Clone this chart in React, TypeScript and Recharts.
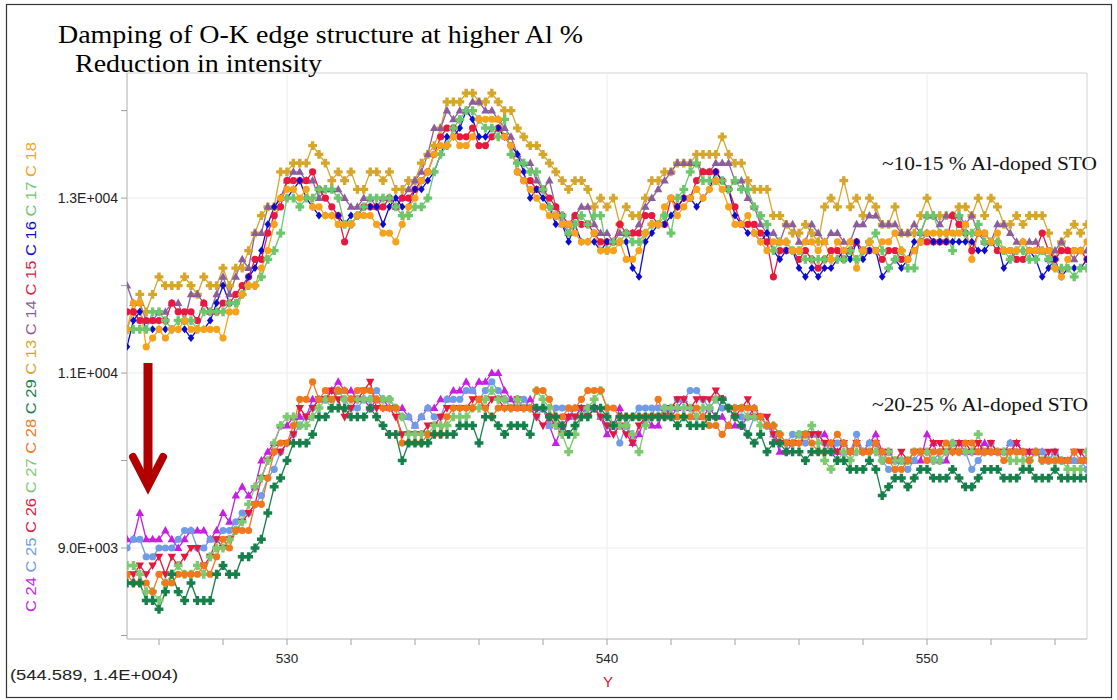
import React from 'react';
import { LineChart, Line, XAxis, YAxis, ReferenceLine, ReferenceArea } from 'recharts';

// energy loss (eV), one reading every 0.2 eV
const energies = [
  525, 525.2, 525.4, 525.6, 525.8, 526, 526.2, 526.4, 526.6, 526.8,
  527, 527.2, 527.4, 527.6, 527.8, 528, 528.2, 528.4, 528.6, 528.8,
  529, 529.2, 529.4, 529.6, 529.8, 530, 530.2, 530.4, 530.6, 530.8,
  531, 531.2, 531.4, 531.6, 531.8, 532, 532.2, 532.4, 532.6, 532.8,
  533, 533.2, 533.4, 533.6, 533.8, 534, 534.2, 534.4, 534.6, 534.8,
  535, 535.2, 535.4, 535.6, 535.8, 536, 536.2, 536.4, 536.6, 536.8,
  537, 537.2, 537.4, 537.6, 537.8, 538, 538.2, 538.4, 538.6, 538.8,
  539, 539.2, 539.4, 539.6, 539.8, 540, 540.2, 540.4, 540.6, 540.8,
  541, 541.2, 541.4, 541.6, 541.8, 542, 542.2, 542.4, 542.6, 542.8,
  543, 543.2, 543.4, 543.6, 543.8, 544, 544.2, 544.4, 544.6, 544.8,
  545, 545.2, 545.4, 545.6, 545.8, 546, 546.2, 546.4, 546.6, 546.8,
  547, 547.2, 547.4, 547.6, 547.8, 548, 548.2, 548.4, 548.6, 548.8,
  549, 549.2, 549.4, 549.6, 549.8, 550, 550.2, 550.4, 550.6, 550.8,
  551, 551.2, 551.4, 551.6, 551.8, 552, 552.2, 552.4, 552.6, 552.8,
  553, 553.2, 553.4, 553.6, 553.8, 554, 554.2, 554.4, 554.6, 554.8,
  555,
];

// ~10-15 % Al
const c13 = [
  11500, 11700, 11900, 11700, 11900, 12100, 12000, 12000, 12000, 12100,
  12000, 11900, 12100, 12000, 12000, 12200, 12000, 12200, 12200, 12400,
  12600, 12800, 12900, 12900, 13300, 13300, 13400, 13400, 13400, 13600,
  13500, 13400, 13200, 13300, 13200, 13300, 13100, 13100, 13300, 13300,
  13200, 13300, 13100, 13100, 13200, 13200, 13400, 13500, 13600, 13800,
  14100, 14100, 14100, 14200, 14200, 14100, 14100, 14200, 14100, 14000,
  14000, 13800, 13700, 13600, 13600, 13500, 13400, 13300, 13200, 13100,
  13200, 13200, 13100, 12900, 13000, 12900, 13000, 12700, 12900, 12800,
  12800, 13000, 13200, 13200, 13300, 13300, 13400, 13400, 13400, 13500,
  13500, 13500, 13500, 13700, 13500, 13400, 13400, 13200, 13100, 13100,
  13100, 12800, 12800, 12700, 12600, 12600, 12700, 12600, 12500, 12900,
  13000, 12900, 13200, 12900, 13000, 12800, 13000, 12900, 12700, 12700,
  12900, 12600, 12600, 12600, 12800, 13000, 12800, 12800, 12800, 12800,
  12900, 12900, 12800, 13000, 12800, 13000, 12900, 12700, 12700, 12800,
  12700, 12800, 12800, 12800, 12600, 12300, 12500, 12600, 12700, 12600,
  12700,
];
const c14 = [
  12000, 11800, 11800, 11600, 11600, 11700, 11700, 11800, 11800, 11600,
  11900, 11900, 11800, 11700, 11900, 12100, 11900, 12100, 12300, 12200,
  12600, 12600, 12900, 12900, 13000, 13200, 13300, 13300, 13200, 13200,
  13000, 13100, 13100, 13100, 13000, 12900, 12900, 13000, 13000, 12900,
  13000, 13000, 12900, 13000, 13100, 13200, 13300, 13500, 13800, 13800,
  14000, 13900, 14000, 14000, 14100, 14100, 14000, 14000, 13900, 13800,
  13700, 13500, 13400, 13400, 13200, 13100, 13200, 12900, 12700, 12600,
  12800, 12900, 12900, 12700, 12600, 12600, 12500, 12600, 12600, 12600,
  12700, 12900, 13000, 13100, 13200, 13300, 13400, 13400, 13400, 13400,
  13300, 13300, 13400, 13400, 13400, 13200, 13200, 13000, 12900, 12700,
  12600, 12600, 12500, 12700, 12700, 12500, 12500, 12700, 12600, 12500,
  12600, 12600, 12500, 12500, 12700, 12700, 12800, 12800, 12700, 12700,
  12700, 12600, 12600, 12700, 12600, 12800, 12800, 12700, 12800, 12800,
  12800, 12700, 12800, 12600, 12500, 12500, 12700, 12700, 12600, 12500,
  12500, 12500, 12500, 12400, 12300, 12400, 12500, 12400, 12300, 12400,
  12400,
];
const c15 = [
  11700, 11700, 11600, 11600, 11600, 11600, 11600, 11800, 11700, 11700,
  11700, 11600, 11800, 11700, 11700, 11800, 11800, 11900, 12000, 12100,
  12300, 12300, 12600, 12800, 12900, 13200, 13200, 13200, 13200, 13300,
  13100, 13000, 12900, 12800, 12500, 12700, 12800, 12900, 12900, 12900,
  12900, 13000, 12900, 13000, 13000, 13100, 13200, 13300, 13500, 13700,
  13800, 13800, 13700, 13700, 13800, 13600, 13600, 13700, 13800, 13700,
  13600, 13300, 13200, 13200, 13100, 13100, 13000, 12900, 12800, 12700,
  12800, 12700, 12700, 12600, 12500, 12500, 12500, 12700, 12600, 12600,
  12600, 12800, 12800, 12700, 12700, 13000, 12900, 13000, 13000, 13200,
  13300, 13300, 13300, 13200, 13100, 12900, 12700, 12700, 12700, 12600,
  12500, 12100, 12400, 12400, 12400, 12300, 12400, 12300, 12200, 12300,
  12400, 12400, 12300, 12400, 12500, 12400, 12400, 12400, 12300, 12400,
  12400, 12300, 12300, 12400, 12500, 12500, 12500, 12500, 12500, 12800,
  12700, 12600, 12400, 12600, 12600, 12500, 12400, 12400, 12400, 12300,
  12300, 12400, 12400, 12600, 12400, 12300, 12400, 12400, 12400, 12400,
  12300,
];
const c16 = [
  11300, 11600, 11700, 11500, 11500, 11500, 11500, 11500, 11500, 11500,
  11400, 11500, 11500, 11600, 11800, 12000, 11800, 11800, 11900, 12100,
  12200, 12400, 12700, 12900, 13000, 13000, 13100, 13200, 13000, 12900,
  12800, 12800, 12800, 12800, 12700, 12800, 12800, 12900, 12900, 12900,
  12700, 12900, 13000, 12900, 12900, 13100, 13100, 13200, 13300, 13500,
  13700, 13700, 13800, 14000, 13900, 13700, 13700, 13800, 13800, 13700,
  13600, 13500, 13300, 13000, 13100, 13000, 12900, 12700, 12700, 12500,
  12700, 12500, 12500, 12500, 12400, 12500, 12500, 12500, 12500, 12200,
  12100, 12500, 12600, 12700, 12700, 12800, 12900, 13000, 13000, 12900,
  13000, 13100, 13300, 13200, 13100, 12800, 12700, 12600, 12600, 12500,
  12600, 12400, 12300, 12400, 12400, 12200, 12100, 12200, 12100, 12200,
  12200, 12300, 12400, 12300, 12500, 12300, 12400, 12400, 12100, 12200,
  12300, 12200, 12300, 12500, 12500, 12600, 12500, 12500, 12500, 12500,
  12500, 12500, 12500, 12400, 12400, 12500, 12500, 12200, 12300, 12400,
  12400, 12400, 12300, 12100, 12200, 12300, 12100, 12200, 12200, 12200,
  12300,
];
const c17 = [
  11500, 11500, 11500, 11500, 11700, 11700, 11600, 11500, 11600, 11600,
  11600, 11500, 11700, 11700, 11700, 11700, 11800, 11800, 11900, 12000,
  12000, 12100, 12300, 12400, 12600, 13000, 13000, 12900, 13000, 13000,
  13100, 13100, 13100, 13000, 12700, 12700, 12800, 12900, 13000, 13000,
  13000, 13000, 12900, 12800, 12800, 12900, 12900, 13000, 13300, 13500,
  13600, 13800, 13900, 14000, 14000, 13900, 13800, 13800, 13700, 13900,
  13500, 13400, 13400, 13300, 13300, 13100, 12900, 12800, 12800, 12600,
  12700, 12800, 12700, 12800, 12800, 12400, 12500, 12500, 12600, 12500,
  12500, 12600, 12700, 12700, 12800, 12600, 13000, 13100, 13300, 13400,
  13200, 13200, 13200, 13200, 13100, 13200, 13100, 13100, 12900, 12800,
  12700, 12400, 12500, 12500, 12400, 12400, 12300, 12300, 12300, 12300,
  12300, 12300, 12300, 12400, 12300, 12400, 12500, 12600, 12400, 12200,
  12300, 12400, 12200, 12200, 12600, 12800, 12800, 12600, 12600, 12400,
  12800, 12600, 12600, 12700, 12500, 12500, 12500, 12400, 12300, 12400,
  12400, 12300, 12300, 12400, 12300, 12200, 12200, 12200, 12100, 12200,
  12200,
];
const c18 = [
  11500, 11800, 11800, 11300, 11400, 11500, 11400, 11500, 11500, 11600,
  11500, 11500, 11500, 11500, 11500, 11400, 11700, 11700, 11900, 12000,
  12000, 12200, 12400, 12700, 13000, 13100, 13100, 13000, 13100, 12900,
  12900, 12800, 12800, 12700, 12700, 12700, 12800, 12800, 12800, 12700,
  12600, 12600, 12500, 12700, 12900, 13000, 13200, 13300, 13500, 13600,
  13600, 13700, 13600, 13600, 13700, 13900, 13900, 13900, 13900, 13700,
  13600, 13300, 13200, 13100, 13000, 12900, 12800, 12800, 12700, 12700,
  12600, 12500, 12500, 12600, 12400, 12400, 12400, 12500, 12300, 12300,
  12400, 12600, 12700, 12700, 12900, 13000, 12800, 12900, 13000, 13100,
  13000, 13100, 13200, 13100, 12900, 12700, 12700, 12800, 12600, 12500,
  12400, 12500, 12500, 12500, 12400, 12400, 12500, 12500, 12400, 12500,
  12300, 12500, 12400, 12500, 12200, 12400, 12500, 12400, 12500, 12500,
  12600, 12400, 12300, 12400, 12500, 12600, 12600, 12600, 12600, 12600,
  12600, 12700, 12300, 12600, 12600, 12500, 12600, 12400, 12400, 12400,
  12500, 12400, 12400, 12400, 12400, 12200, 12100, 12300, 12400, 12400,
  12500,
];

// ~20-25 % Al
const c24 = [
  9100, 9100, 9400, 9100, 9100, 9100, 9200, 9100, 9000, 9100,
  9200, 9200, 9200, 9100, 9200, 9400, 9300, 9600, 9700, 9600,
  9700, 10000, 10100, 10200, 10400, 10400, 10500, 10500, 10500, 10700,
  10700, 10700, 10800, 10900, 10800, 10800, 10700, 10700, 10600, 10700,
  10700, 10600, 10600, 10600, 10500, 10400, 10500, 10600, 10600, 10700,
  10700, 10800, 10800, 10900, 10800, 10900, 10900, 11000, 11000, 10800,
  10700, 10600, 10600, 10700, 10600, 10600, 10400, 10200, 10400, 10500,
  10600, 10600, 10600, 10600, 10500, 10300, 10400, 10600, 10400, 10200,
  10300, 10500, 10400, 10400, 10600, 10500, 10600, 10700, 10600, 10500,
  10500, 10600, 10500, 10500, 10400, 10400, 10400, 10500, 10600, 10500,
  10400, 10300, 10100, 10100, 10200, 10300, 10300, 10300, 10300, 10300,
  10200, 10100, 10200, 10100, 10200, 10100, 10200, 10300, 10100, 10100,
  10000, 10000, 10000, 10000, 10000, 10300, 10200, 10000, 10000, 10200,
  10200, 10100, 10100, 10100, 10200, 10100, 10100, 10100, 10200, 10200,
  10100, 10100, 10100, 10100, 10000, 10100, 10000, 10000, 10000, 10000,
  10000,
];
const c25 = [
  9000, 9100, 9100, 8900, 8900, 9000, 9000, 9000, 9100, 9200,
  9200, 9000, 9000, 9100, 9100, 9200, 9200, 9300, 9400, 9400,
  9500, 9600, 9800, 9900, 10100, 10200, 10300, 10400, 10500, 10600,
  10700, 10700, 10700, 10800, 10700, 10600, 10600, 10700, 10700, 10800,
  10700, 10700, 10600, 10500, 10500, 10400, 10500, 10600, 10500, 10500,
  10700, 10700, 10700, 10800, 10800, 10700, 10800, 10900, 10800, 10700,
  10600, 10600, 10700, 10600, 10500, 10600, 10400, 10600, 10600, 10600,
  10500, 10600, 10600, 10600, 10500, 10400, 10400, 10200, 10400, 10500,
  10600, 10600, 10600, 10600, 10600, 10600, 10700, 10700, 10800, 10800,
  10700, 10600, 10700, 10600, 10600, 10500, 10500, 10300, 10500, 10500,
  10400, 10300, 10200, 10200, 10300, 10300, 10200, 10300, 10300, 10200,
  10100, 10200, 10200, 10100, 10300, 10100, 10200, 10200, 10000, 9900,
  9900, 10000, 9900, 10000, 10100, 10100, 10000, 10100, 10100, 10200,
  10100, 10100, 9900, 10000, 10100, 10200, 10100, 10100, 10200, 10100,
  10100, 10000, 10100, 10100, 10000, 10100, 10000, 10000, 10000, 10000,
  9900,
];
const c26 = [
  8700, 8700, 8800, 8700, 8800, 8900, 8700, 8900, 8800, 8900,
  9000, 9000, 8800, 8900, 9100, 9000, 9100, 9200, 9300, 9400,
  9500, 9800, 10000, 10100, 10100, 10200, 10300, 10600, 10500, 10600,
  10700, 10700, 10800, 10700, 10500, 10600, 10700, 10800, 10900, 10600,
  10600, 10600, 10500, 10300, 10300, 10300, 10300, 10400, 10400, 10500,
  10600, 10600, 10600, 10600, 10700, 10700, 10600, 10700, 10700, 10600,
  10600, 10700, 10600, 10600, 10500, 10400, 10500, 10400, 10300, 10500,
  10500, 10600, 10500, 10600, 10500, 10400, 10300, 10400, 10300, 10200,
  10400, 10500, 10500, 10500, 10500, 10600, 10700, 10700, 10600, 10700,
  10700, 10700, 10800, 10700, 10600, 10500, 10600, 10700, 10500, 10500,
  10500, 10300, 10200, 10200, 10200, 10200, 10300, 10300, 10300, 10200,
  10200, 10100, 10200, 10100, 10200, 10100, 10100, 10200, 10100, 10100,
  10000, 10100, 10000, 10100, 10100, 10100, 10200, 10200, 10100, 10100,
  10200, 10200, 10100, 10200, 10100, 10200, 10100, 10100, 10100, 10200,
  10100, 10100, 10100, 10000, 10100, 10100, 10000, 10000, 10100, 10100,
  10000,
];
const c27 = [
  8800, 8800, 8700, 8500, 8500, 8400, 8600, 8700, 8800, 8700,
  8700, 8800, 8700, 8900, 9000, 9000, 9100, 9200, 9300, 9500,
  9700, 9800, 10000, 10200, 10400, 10500, 10500, 10400, 10400, 10500,
  10600, 10700, 10600, 10800, 10700, 10700, 10700, 10700, 10700, 10700,
  10700, 10700, 10600, 10500, 10300, 10300, 10300, 10300, 10400, 10400,
  10400, 10500, 10500, 10500, 10600, 10600, 10700, 10800, 10700, 10700,
  10600, 10700, 10600, 10600, 10800, 10700, 10600, 10400, 10300, 10100,
  10300, 10500, 10600, 10700, 10800, 10600, 10400, 10400, 10400, 10300,
  10100, 10400, 10500, 10500, 10600, 10600, 10600, 10600, 10600, 10500,
  10600, 10600, 10700, 10700, 10600, 10600, 10600, 10500, 10500, 10400,
  10400, 10400, 10300, 10200, 10200, 10300, 10300, 10400, 10200, 10000,
  9900, 10000, 10100, 10000, 10100, 10100, 10100, 10100, 10000, 10100,
  10000, 10000, 10000, 10100, 10100, 10100, 10000, 10000, 10100, 10200,
  10100, 10100, 10100, 10300, 10100, 10100, 10100, 10100, 10000, 10000,
  10000, 10000, 10100, 10000, 10000, 10000, 10000, 9900, 9900, 9900,
  10100,
];
const c28 = [
  8700, 8600, 8600, 8600, 8500, 8700, 8600, 8600, 8700, 8700,
  8700, 8700, 8800, 8700, 8900, 9100, 9000, 9200, 9200, 9200,
  9500, 9500, 9800, 10100, 10200, 10200, 10400, 10700, 10700, 10900,
  10700, 10800, 10700, 10800, 10800, 10700, 10800, 10800, 10800, 10700,
  10600, 10600, 10600, 10200, 10200, 10200, 10200, 10300, 10300, 10300,
  10500, 10600, 10600, 10600, 10600, 10700, 10600, 10500, 10600, 10600,
  10600, 10600, 10600, 10600, 10800, 10800, 10700, 10500, 10500, 10600,
  10600, 10700, 10800, 10800, 10800, 10600, 10600, 10500, 10500, 10500,
  10500, 10500, 10500, 10700, 10500, 10500, 10500, 10500, 10500, 10600,
  10500, 10400, 10400, 10300, 10400, 10600, 10600, 10600, 10600, 10500,
  10400, 10400, 10300, 10200, 10200, 10200, 10300, 10200, 10100, 10100,
  10200, 10300, 10200, 10100, 10200, 10100, 10100, 10200, 10100, 10000,
  9900, 9900, 10000, 10100, 10100, 10000, 10100, 10100, 10200, 10100,
  10100, 10200, 10200, 10100, 10100, 10100, 10100, 10000, 10100, 10100,
  10100, 10000, 10100, 10000, 10000, 10000, 10000, 10000, 10100, 10000,
  10000,
];
const c29 = [
  8600, 8600, 8600, 8400, 8400, 8300, 8500, 8700, 8500, 8400,
  8600, 8400, 8400, 8400, 8700, 8800, 8700, 8700, 8900, 8900,
  9000, 9100, 9400, 9700, 9800, 10000, 10200, 10200, 10200, 10300,
  10500, 10500, 10600, 10600, 10600, 10500, 10500, 10500, 10600, 10500,
  10400, 10300, 10300, 10000, 10200, 10200, 10200, 10200, 10300, 10300,
  10300, 10300, 10400, 10400, 10400, 10200, 10500, 10500, 10400, 10300,
  10400, 10400, 10400, 10300, 10600, 10600, 10500, 10500, 10400, 10300,
  10400, 10500, 10500, 10600, 10600, 10500, 10400, 10500, 10500, 10500,
  10500, 10500, 10500, 10500, 10500, 10500, 10400, 10500, 10400, 10400,
  10400, 10500, 10500, 10700, 10600, 10500, 10400, 10300, 10200, 10300,
  10100, 10200, 10200, 10100, 10100, 10100, 10000, 10100, 10100, 10100,
  10100, 10000, 10000, 9900, 9900, 9900, 10000, 9900, 9600, 9700,
  9800, 9800, 9700, 9800, 9900, 9900, 9800, 9800, 9800, 9900,
  9800, 9700, 9700, 9800, 9900, 9900, 9900, 9800, 9800, 9800,
  9900, 9900, 9800, 9800, 9800, 9900, 9800, 9800, 9800, 9800,
  9800,
];

const xTicks = [526, 528, 530, 532, 534, 536, 538, 540, 542, 544, 546, 548, 550, 552, 554];
const xLabeled = [530, 540, 550];
const yTicks = [8000, 9000, 10000, 11000, 12000, 13000, 14000];
const yLabeled = [9000, 11000, 13000];
const gridX = [530, 540, 550];
const gridY = [9000, 11000, 13000];

const series = [
  { key: 'c24', label: 'C 24', color: '#c61ee2', shape: 'up', values: c24 },
  { key: 'c25', label: 'C 25', color: '#6f9ce6', shape: 'circle', values: c25 },
  { key: 'c26', label: 'C 26', color: '#e3173f', shape: 'down', values: c26 },
  { key: 'c27', label: 'C 27', color: '#7cc96f', shape: 'plus', values: c27 },
  { key: 'c28', label: 'C 28', color: '#f0781c', shape: 'circle', values: c28 },
  { key: 'c29', label: 'C 29', color: '#16804a', shape: 'plus', values: c29 },
  { key: 'c13', label: 'C 13', color: '#d6a62a', shape: 'plus', values: c13 },
  { key: 'c14', label: 'C 14', color: '#8b5e9b', shape: 'up', values: c14 },
  { key: 'c15', label: 'C 15', color: '#e8183e', shape: 'circle', values: c15 },
  { key: 'c16', label: 'C 16', color: '#0c0cd0', shape: 'diamond', values: c16 },
  { key: 'c17', label: 'C 17', color: '#6cc66c', shape: 'plus', values: c17 },
  { key: 'c18', label: 'C 18', color: '#f7a21b', shape: 'circle', values: c18 },
];

const tableData = energies.map((x, i) => {
  const row: Record<string, number> = { x };
  series.forEach(s => { row[s.key] = s.values[i]; });
  return row;
});

const sans = '"Liberation Sans", Arial, sans-serif';
const serif = '"Liberation Serif", "Times New Roman", serif';

function sci(v: number) {
  const e = Math.floor(Math.log10(v));
  const m = v / Math.pow(10, e);
  return `${m.toFixed(1)}E+${String(e).padStart(3, '0')}`;
}

function makeDot(shape: string, color: string) {
  return (props: any) => {
    const { cx, cy, index } = props;
    const k = `d-${index}`;
    if (cx == null || cy == null) return <g key={k} />;
    if (shape === 'circle') return <circle key={k} cx={cx} cy={cy} r={3.6} fill={color} />;
    if (shape === 'up')
      return <polygon key={k} points={`${cx},${cy - 4.6} ${cx - 4.2},${cy + 3} ${cx + 4.2},${cy + 3}`} fill={color} />;
    if (shape === 'down')
      return <polygon key={k} points={`${cx},${cy + 4.6} ${cx - 4.2},${cy - 3} ${cx + 4.2},${cy - 3}`} fill={color} />;
    if (shape === 'diamond')
      return <polygon key={k} points={`${cx},${cy - 4} ${cx + 3.3},${cy} ${cx},${cy + 4} ${cx - 3.3},${cy}`} fill={color} />;
    return (
      <path
        key={k}
        d={`M${cx - 1.7},${cy - 4.4}h3.4v2.7h2.7v3.4h-2.7v2.7h-3.4v-2.7h-2.7v-3.4h2.7z`}
        fill={color}
      />
    );
  };
}

export default function App() {
  return (
    <div style={{ position: 'absolute', left: 0, top: 0, width: 1117, height: 700, background: '#fff', overflow: 'hidden' }}>
      <LineChart
        width={1117}
        height={700}
        data={tableData}
        margin={{ top: 73, right: 30, bottom: 31, left: 37 }}
        style={{ position: 'absolute', left: 0, top: 0 }}
      >
        <XAxis
          type="number"
          dataKey="x"
          domain={[525, 555]}
          ticks={xTicks}
          interval={0}
          allowDataOverflow
          height={30}
          tickSize={6}
          tickMargin={8}
          tickFormatter={(v: number) => (xLabeled.includes(v) ? String(v) : '')}
          tick={{ fontSize: 13.5, fill: '#222', fontFamily: sans }}
          axisLine={{ stroke: '#c4c4c4' }}
          tickLine={{ stroke: '#a0a0a0' }}
        />
        <YAxis
          type="number"
          domain={[7960, 14430]}
          ticks={yTicks}
          interval={0}
          allowDataOverflow
          width={90}
          tickSize={6}
          tickMargin={3}
          tickFormatter={(v: number) => (yLabeled.includes(v) ? sci(v) : '')}
          tick={{ fontSize: 14, fill: '#222', fontFamily: sans }}
          axisLine={{ stroke: '#c4c4c4' }}
          tickLine={{ stroke: '#a0a0a0' }}
        />
        <ReferenceArea x1={525} x2={555} y1={7960} y2={14430} fill="none" fillOpacity={0} stroke="#d2d2d2" ifOverflow="visible" />
        {gridX.map(v => (
          <ReferenceLine key={`gx${v}`} x={v} stroke="#ececec" strokeWidth={1} />
        ))}
        {gridY.map(v => (
          <ReferenceLine key={`gy${v}`} y={v} stroke="#ececec" strokeWidth={1} />
        ))}
        {series.map(s => (
          <Line
            key={s.key}
            type="linear"
            dataKey={s.key}
            stroke={s.color}
            strokeWidth={1.3}
            dot={makeDot(s.shape, s.color)}
            activeDot={false}
            isAnimationActive={false}
          />
        ))}
      </LineChart>

      <svg width={1117} height={700} style={{ position: 'absolute', left: 0, top: 0, pointerEvents: 'none' }}>
        <rect x={6.5} y={4.5} width={1105} height={693} fill="none" stroke="#333" strokeWidth={1.2} />

        <text x={58} y={43} fontFamily={serif} fontSize={26} fill="#000" textLength={525} lengthAdjust="spacingAndGlyphs">
          Damping of O-K edge structure at higher Al %
        </text>
        <text x={75} y={72} fontFamily={serif} fontSize={26} fill="#000" textLength={247} lengthAdjust="spacingAndGlyphs">
          Reduction in intensity
        </text>

        <text x={882} y={170} fontFamily={serif} fontSize={19} fill="#111" textLength={215} lengthAdjust="spacingAndGlyphs">
          ~10-15 % Al-doped STO
        </text>
        <text x={872} y={411} fontFamily={serif} fontSize={19} fill="#111" textLength={216} lengthAdjust="spacingAndGlyphs">
          ~20-25 % Al-doped STO
        </text>

        <text
          transform="translate(36,612) rotate(-90)"
          fontFamily={sans}
          fontSize={15}
          textLength={470}
          lengthAdjust="spacingAndGlyphs"
        >
          {series.map(s => (
            <tspan key={s.key} fill={s.color}>{`${s.label} `}</tspan>
          ))}
        </text>

        <line x1={148} y1={363} x2={148} y2={482} stroke="#b00000" strokeWidth={9} />
        <polyline points="133,457 148,486 163,457" fill="none" stroke="#b00000" strokeWidth={8} strokeLinecap="round" strokeLinejoin="miter" />

        <text x={10} y={680} fontFamily={sans} fontSize={14} fill="#222" textLength={168} lengthAdjust="spacingAndGlyphs">
          (544.589, 1.4E+004)
        </text>
        <text x={608} y={687} fontFamily={sans} fontSize={15} fill="#e8103a" textAnchor="middle">Y</text>
      </svg>
    </div>
  );
}
